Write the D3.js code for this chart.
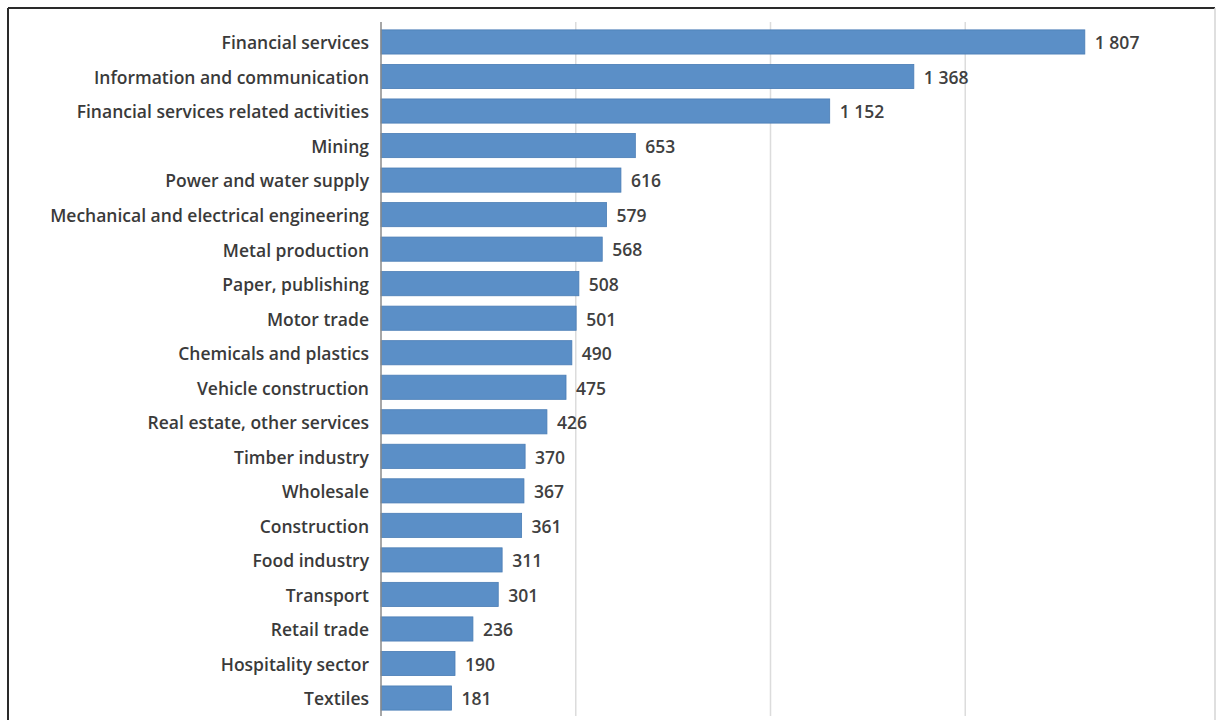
<!DOCTYPE html>
<html>
<head>
<meta charset="utf-8">
<script src="https://cdn.jsdelivr.net/npm/d3@7"></script>
<style>
  html, body { margin: 0; padding: 0; background: #fff; }
  svg { display: block; }
</style>
</head>
<body>
<svg id="chart" width="1216" height="720"></svg>
<script>
// Sectors, ordered from largest to smallest
const sectors = [
  "Financial services",
  "Information and communication",
  "Financial services related activities",
  "Mining",
  "Power and water supply",
  "Mechanical and electrical engineering",
  "Metal production",
  "Paper, publishing",
  "Motor trade",
  "Chemicals and plastics",
  "Vehicle construction",
  "Real estate, other services",
  "Timber industry",
  "Wholesale",
  "Construction",
  "Food industry",
  "Transport",
  "Retail trade",
  "Hospitality sector",
  "Textiles"
];
const amounts = [1807, 1368, 1152, 653, 616, 579, 568, 508, 501, 490, 475, 426, 370, 367, 361, 311, 301, 236, 190, 181];
const gridValues = [500, 1000, 1500];

const svg = d3.select("#chart");
const W = 1216, H = 720;
const FONT = "'Open Sans', Lato, sans-serif";

// Outer frame: dark top/left edge, light right edge
svg.append("line").attr("x1", 8).attr("x2", 1215).attr("y1", 8).attr("y2", 8)
  .attr("stroke", "#2a2a2a").attr("stroke-width", 2);
svg.append("line").attr("x1", 8).attr("x2", 8).attr("y1", 8).attr("y2", H)
  .attr("stroke", "#2a2a2a").attr("stroke-width", 2);
svg.append("line").attr("x1", 1215).attr("x2", 1215).attr("y1", 8).attr("y2", H)
  .attr("stroke", "#d4d4d4").attr("stroke-width", 1.5);

const x = d3.scaleLinear().domain([0, 2000]).range([381, 1160]);
const y = d3.scaleBand().domain(sectors).range([24.7, 715.3]).paddingInner(0.3).paddingOuter(0.15);

// Vertical gridlines
svg.append("g").selectAll("line").data(gridValues).join("line")
  .attr("x1", d => x(d)).attr("x2", d => x(d))
  .attr("y1", 22).attr("y2", 716)
  .attr("stroke", "#dcdcdc").attr("stroke-width", 1.5);

// Bars
svg.append("g").selectAll("rect").data(sectors).join("rect")
  .attr("x", x(0))
  .attr("y", d => y(d))
  .attr("width", (d, i) => x(amounts[i]) - x(0))
  .attr("height", y.bandwidth())
  .attr("fill", "#5b8fc7")
  .attr("stroke", "#4a7db5")
  .attr("stroke-width", 0.8);

// Category axis
const yAxis = d3.axisLeft(y).tickSize(0).tickPadding(12);
const ga = svg.append("g").attr("transform", `translate(${x(0)},0)`).call(yAxis);
ga.select(".domain").attr("stroke", "#8a8a8a").attr("stroke-width", 1.5)
  .attr("d", `M0,22V716`);
ga.selectAll("text")
  .attr("font-family", FONT)
  .attr("font-weight", 600)
  .attr("font-size", 17.5)
  .attr("dy", "0.42em")
  .attr("fill", "#3a3a3a");

// Value labels
const fmt = v => v >= 1000 ? d3.format(",")(v).replace(",", " ") : String(v);
svg.append("g").selectAll("text").data(sectors).join("text")
  .attr("x", (d, i) => x(amounts[i]) + 10)
  .attr("y", d => y(d) + y.bandwidth() / 2)
  .attr("dy", "0.42em")
  .attr("font-family", FONT)
  .attr("font-weight", 600)
  .attr("font-size", 17.5)
  .attr("fill", "#404040")
  .text((d, i) => fmt(amounts[i]));
</script>
</body>
</html>
